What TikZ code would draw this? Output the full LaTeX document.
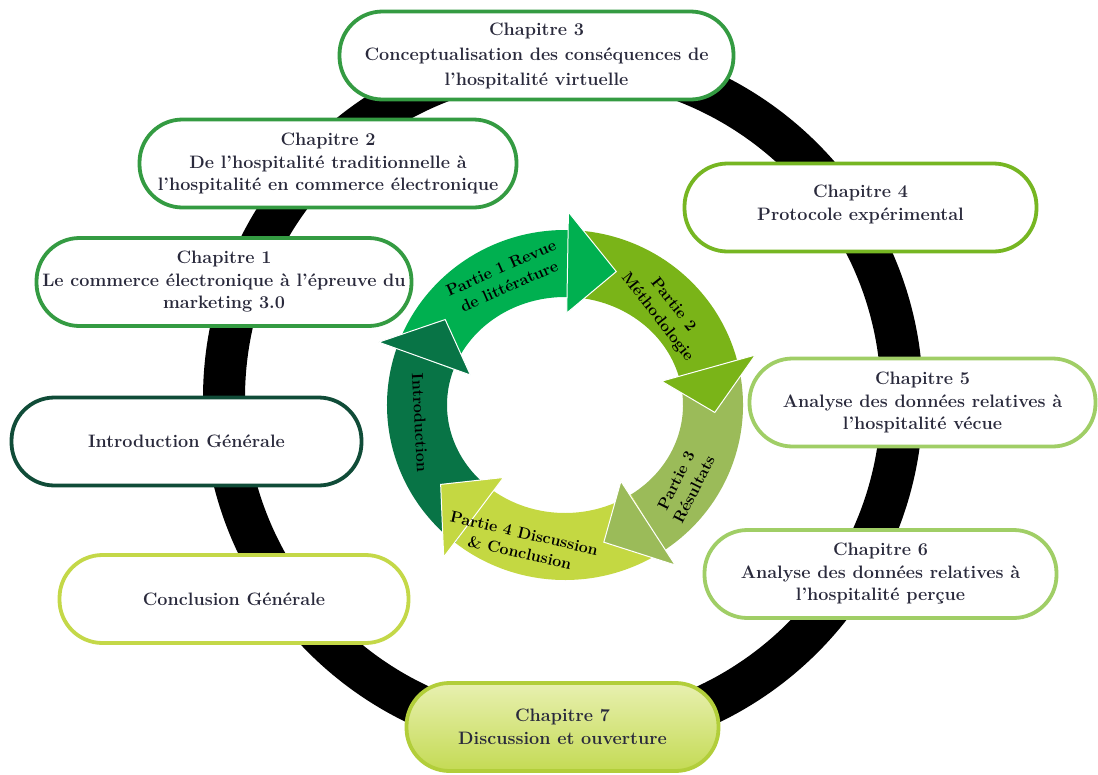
\documentclass[tikz,border=0pt]{standalone}
\definecolor{txt}{RGB}{42,42,60}
\definecolor{gA}{RGB}{52,155,66}
\definecolor{gIntro}{RGB}{16,76,56}
\definecolor{gConc}{RGB}{196,216,72}
\definecolor{gC4}{RGB}{118,182,34}
\definecolor{gC5}{RGB}{160,206,102}
\definecolor{gC6}{RGB}{160,206,102}
\definecolor{gC7}{RGB}{178,206,58}
\definecolor{c7top}{RGB}{232,240,176}
\definecolor{c7bot}{RGB}{196,218,84}
\definecolor{aIntro}{RGB}{8,116,70}
\definecolor{aP1}{RGB}{0,176,80}
\definecolor{aP2}{RGB}{122,180,24}
\definecolor{aP3}{RGB}{155,187,89}
\definecolor{aP4}{RGB}{196,216,66}
\tikzset{
  chap/.style={draw=#1, line width=3.8pt, fill=white, rounded corners=43pt,
    minimum height=88pt, inner sep=0pt, align=center, text=txt,
    font=\bfseries\fontsize{18}{22.5}\selectfont},
  arrtext/.style={font=\bfseries\fontsize{16}{20}\selectfont, text=black,
    align=center, inner sep=0pt},
  headstyle/.style={fill=#1, draw=white, line width=1pt}
}
\newcommand\arcbody[3]{%
  \fill[#1] (#2:178 and 175) arc[start angle=#2, end angle=#3, x radius=178, y radius=175]
    -- (#3:118 and 108) arc[start angle=#3, end angle=#2, x radius=118, y radius=108] -- cycle;}
\newcommand\archead[3]{%
  \path[headstyle=#1] (#2:197 and 193) -- (#3:150 and 142) -- (#2:100 and 92) -- cycle;}
\begin{document}
\begin{tikzpicture}[x=1pt,y=-1pt]
\useasboundingbox (0,0) rectangle (1098,774);
\fill[white] (0,0) rectangle (1098,774);
% big ring
\draw[line width=42pt, black] (563,398) circle (339);
% chapter boxes
\node[chap=gA, minimum width=394pt, font=\bfseries\fontsize{18}{25}\selectfont] (ch3) at (536.5,55.5)
  {Chapitre 3\\Conceptualisation des conséquences de\\l'hospitalité virtuelle};
\node[chap=gA, minimum width=377pt] (ch2) at (328,163.5)
  {Chapitre 2\\De l'hospitalité traditionnelle à\\l'hospitalité en commerce électronique};
\node[chap=gA, minimum width=375pt] (ch1) at (224,282)
  {Chapitre 1\\Le commerce électronique à l'épreuve du\\marketing 3.0};
\node[chap=gIntro, minimum width=350pt] (intro) at (186.5,441.5)
  {Introduction Générale};
\node[chap=gConc, minimum width=349pt] (concl) at (234,599)
  {Conclusion Générale};
\node[chap=gC4, minimum width=352pt] (ch4) at (860.5,207.5)
  {Chapitre 4\\Protocole expérimental\\[-12.5pt]\mbox{}};
\node[chap=gC5, minimum width=346pt] (ch5) at (922.5,402.5)
  {Chapitre 5\\Analyse des données relatives à\\l'hospitalité vécue};
\node[chap=gC6, minimum width=352pt] (ch6) at (880.5,574)
  {Chapitre 6\\Analyse des données relatives à\\l'hospitalité perçue};
\node[chap=gC7, top color=c7top, bottom color=c7bot, minimum width=312pt] (ch7) at (562.5,727)
  {Chapitre 7\\Discussion et ouverture};
% central cycle
\begin{scope}[shift={(565,405)}]
  \arcbody{aIntro}{128}{199}
  \arcbody{aP1}{199}{271}
  \arcbody{aP2}{271}{345}
  \arcbody{aP3}{345}{416}
  \arcbody{aP4}{56}{128}
  \archead{aIntro}{199}{217}
  \archead{aP1}{271}{290}
  \archead{aP2}{345}{363}
  \archead{aP3}{56}{75}
  \archead{aP4}{128}{146}
\end{scope}
\node[arrtext, rotate=24] (tp1) at (505,277) {Partie 1 Revue\\de littérature};
\node[arrtext, rotate=-52] (tp2) at (665,311) {Partie 2\\Méthodologie};
\node[arrtext, rotate=63] (tp3) at (685,485) {Partie 3\\Résultats};
\node[arrtext, rotate=-13] (tp4) at (522,543) {Partie 4 Discussion\\\& Conclusion};
\node[arrtext, rotate=-87] (tin) at (420,423) {Introduction};
\end{tikzpicture}
\end{document}
